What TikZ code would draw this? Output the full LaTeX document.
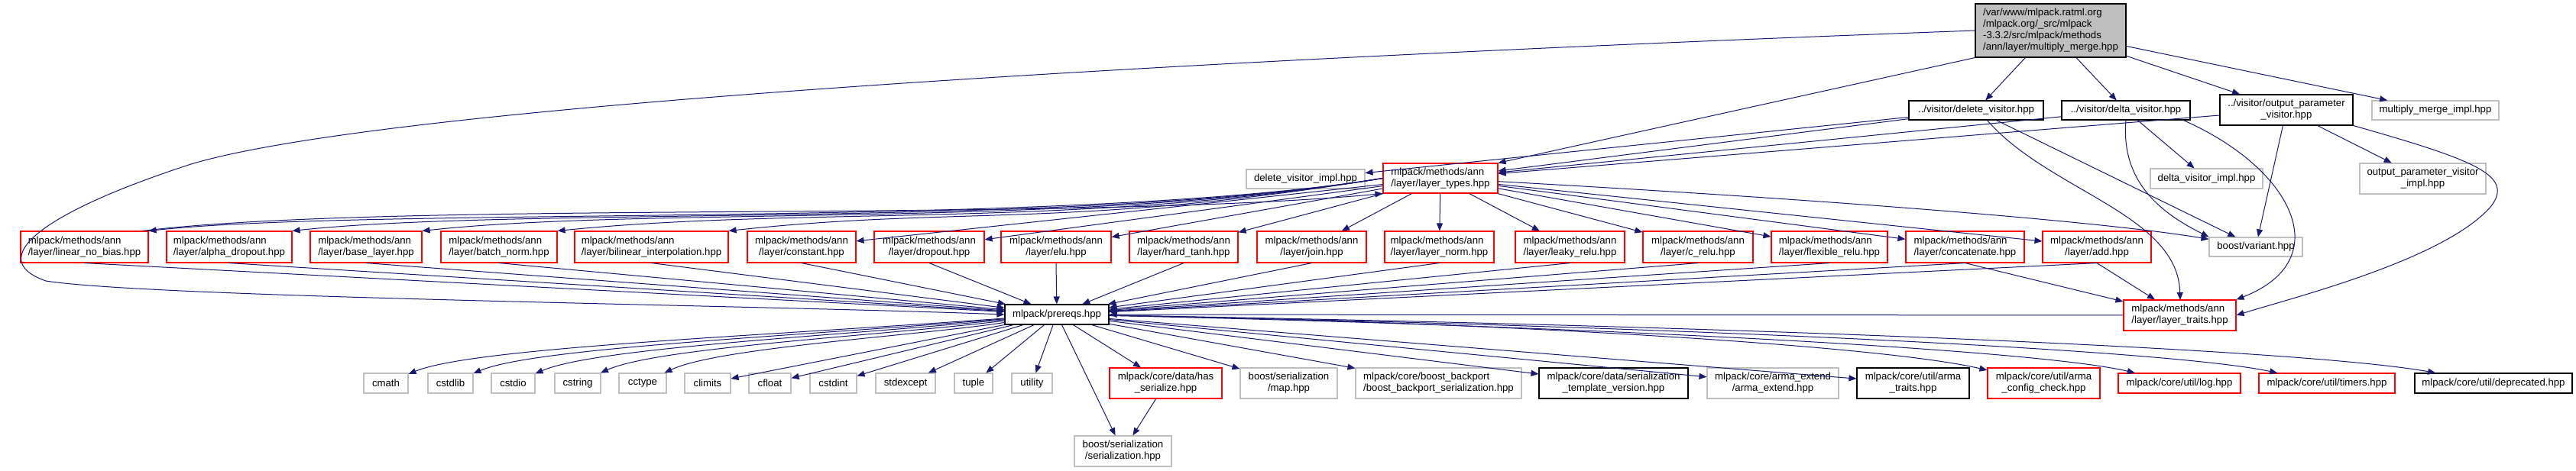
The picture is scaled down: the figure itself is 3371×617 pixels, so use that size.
\documentclass[tikz,border=0pt]{standalone}
\usepackage{fontspec}
\setmainfont{Liberation Sans}
\usetikzlibrary{arrows.meta}
\definecolor{edgec}{HTML}{191970}
\definecolor{greyc}{HTML}{BFBFBF}
\newcommand\bx[7]{\node[#2, minimum width={(#5)-(#3)}, minimum height={(#6)-(#4)}] (#1) at ({((#3)+(#5))/2},{((#4)+(#6))/2}) {#7};}
\begin{document}
\begin{tikzpicture}[x=1pt,y=-1pt, font=\fontsize{13.2}{15}\selectfont,
 box/.style={draw, line width=1.1pt, inner sep=0pt, fill=white, align=center},
 redb/.style={box, draw=red},
 greyb/.style={box, draw=greyc},
 blackb/.style={box, draw=black},
 rootb/.style={box, draw=black, fill=greyc, align=left},
 e/.style={draw=edgec, line width=1pt, -{Triangle[length=10pt,width=8pt]}},
]
\fill[white] (0,0) rectangle (3371,617);
\useasboundingbox (0,0) rectangle (3371,617);
% top
\bx{root}{rootb}{2585}{5}{2782}{75}{/var/www/mlpack.ratml.org\\/mlpack.org/\_src/mlpack\\-3.3.2/src/mlpack/methods\\/ann/layer/multiply\_merge.hpp}
\bx{delv}{blackb}{2498}{132}{2674}{157}{../visitor/delete\_visitor.hpp}
\bx{dltv}{blackb}{2698}{132}{2866}{157}{../visitor/delta\_visitor.hpp}
\bx{opv}{blackb}{2905}{124}{3079}{164}{../visitor/output\_parameter\\\_visitor.hpp}
\bx{mmi}{greyb}{3104}{132}{3270}{157}{multiply\_merge\_impl.hpp}
\bx{delvi}{greyb}{1631}{222}{1786}{247}{delete\_visitor\_impl.hpp}
\bx{lt}{redb,align=left}{1810}{214}{1960}{253}{mlpack/methods/ann\\/layer/layer\_types.hpp}
\bx{dltvi}{greyb}{2814}{221}{2961}{247}{delta\_visitor\_impl.hpp}
\bx{opvi}{greyb}{3088}{214}{3253}{254}{output\_parameter\_visitor\\\_impl.hpp}
% layers
\bx{lnb}{redb,align=left}{27}{303}{194}{344}{mlpack/methods/ann\\/layer/linear\_no\_bias.hpp}
\bx{ald}{redb,align=left}{218}{303}{382}{344}{mlpack/methods/ann\\/layer/alpha\_dropout.hpp}
\bx{bas}{redb,align=left}{406}{303}{552}{344}{mlpack/methods/ann\\/layer/base\_layer.hpp}
\bx{bn}{redb,align=left}{577}{303}{729}{344}{mlpack/methods/ann\\/layer/batch\_norm.hpp}
\bx{bil}{redb,align=left}{752}{303}{953}{344}{mlpack/methods/ann\\/layer/bilinear\_interpolation.hpp}
\bx{cst}{redb}{978}{303}{1120}{344}{mlpack/methods/ann\\/layer/constant.hpp}
\bx{drp}{redb}{1144}{303}{1288}{344}{mlpack/methods/ann\\/layer/dropout.hpp}
\bx{elu}{redb}{1310}{303}{1454}{344}{mlpack/methods/ann\\/layer/elu.hpp}
\bx{ht}{redb}{1478}{303}{1620}{344}{mlpack/methods/ann\\/layer/hard\_tanh.hpp}
\bx{join}{redb}{1645}{303}{1788}{344}{mlpack/methods/ann\\/layer/join.hpp}
\bx{ln}{redb,align=left}{1812}{303}{1955}{344}{mlpack/methods/ann\\/layer/layer\_norm.hpp}
\bx{lkr}{redb}{1983}{303}{2126}{344}{mlpack/methods/ann\\/layer/leaky\_relu.hpp}
\bx{crl}{redb}{2150}{303}{2294}{344}{mlpack/methods/ann\\/layer/c\_relu.hpp}
\bx{flr}{redb,align=left}{2318}{303}{2470}{344}{mlpack/methods/ann\\/layer/flexible\_relu.hpp}
\bx{cat}{redb,align=left}{2494}{303}{2649}{344}{mlpack/methods/ann\\/layer/concatenate.hpp}
\bx{add}{redb}{2673}{303}{2815}{344}{mlpack/methods/ann\\/layer/add.hpp}
\bx{var}{greyb}{2891}{311}{3013}{336}{boost/variant.hpp}
\bx{ltr}{redb,align=left}{2779}{393}{2926}{433}{mlpack/methods/ann\\/layer/layer\_traits.hpp}
\bx{pre}{blackb}{1315}{399}{1451}{425}{mlpack/prereqs.hpp}
% bottom row
\bx{cmath}{greyb}{476}{489}{534}{515}{cmath}
\bx{cstdlib}{greyb}{560}{489}{619}{515}{cstdlib}
\bx{cstdio}{greyb}{643}{489}{700}{515}{cstdio}
\bx{cstring}{greyb}{726}{489}{786}{515}{cstring}
\bx{cctype}{greyb}{810}{489}{872}{515}{cctype}
\bx{climits}{greyb}{896}{489}{956}{515}{climits}
\bx{cfloat}{greyb}{980}{489}{1035}{515}{cfloat}
\bx{cstdint}{greyb}{1060}{489}{1121}{515}{cstdint}
\bx{stdexcept}{greyb}{1146}{489}{1224}{515}{stdexcept}
\bx{tuple}{greyb}{1249}{489}{1299}{515}{tuple}
\bx{utility}{greyb}{1324}{489}{1377}{515}{utility}
\bx{hs}{redb}{1452}{482}{1599}{522}{mlpack/core/data/has\\\_serialize.hpp}
\bx{map}{greyb}{1623}{482}{1750}{522}{boost/serialization\\/map.hpp}
\bx{bbp}{greyb,align=left}{1774}{482}{1991}{522}{mlpack/core/boost\_backport\\/boost\_backport\_serialization.hpp}
\bx{stv}{blackb}{2014}{482}{2209}{522}{mlpack/core/data/serialization\\\_template\_version.hpp}
\bx{ae}{greyb}{2234}{482}{2406}{522}{mlpack/core/arma\_extend\\/arma\_extend.hpp}
\bx{at}{blackb}{2430}{482}{2577}{522}{mlpack/core/util/arma\\\_traits.hpp}
\bx{acc}{redb}{2601}{482}{2748}{522}{mlpack/core/util/arma\\\_config\_check.hpp}
\bx{log}{redb}{2772}{489}{2932}{515}{mlpack/core/util/log.hpp}
\bx{tim}{redb}{2956}{489}{3134}{515}{mlpack/core/util/timers.hpp}
\bx{dep}{blackb}{3160}{489}{3366}{515}{mlpack/core/util/deprecated.hpp}
\bx{ser}{greyb}{1406}{571}{1533}{611}{boost/serialization\\/serialization.hpp}
% edges from root
\draw[e] (root) -- (delv);
\draw[e] (root) -- (dltv);
\draw[e] (root) -- (opv);
\draw[e] (root) -- (mmi);
\draw[e] (root.south west) -- (lt.north east);
\draw[e] (root.west) .. controls (1500,80) and (500,140) .. (250,215) .. controls (50,280) and (-20,340) .. (60,368) .. controls (200,390) and (1000,400) .. (pre.west);
% visitors
\draw[e] (delv) -- (delvi);
\draw[e] (delv) -- (lt);
\draw[e] (delv) -- (var);
\draw[e] (2600,157) .. controls (2680,250) and (2850,280) .. (2853,393);
\draw[e] (dltv) -- (lt);
\draw[e] (dltv) -- (dltvi);
\draw[e] (dltv.south) .. controls (2775,240) and (2830,280) .. (var.north west);
\draw[e] (2856,157) .. controls (3000,220) and (3060,340) .. (ltr.north east);
\draw[e] (opv) -- (lt);
\draw[e] (opv) -- (opvi);
\draw[e] (opv) -- (var);
\draw[e] (opv.south east) .. controls (3240,210) and (3290,230) .. (3260,270) .. controls (3200,340) and (3000,390) .. (ltr.east);
% layer_types
\draw[e] (lt) .. controls (2400,262) and (2750,290) .. (var);
\foreach \t in {ht,elu,drp,cst,join,ln,lkr,crl,flr,cat,add} {\draw[e] (lt) -- (\t);}
\draw[e] (lt.west) .. controls (1400,300) and (1253,270) .. (bil.north east);
\draw[e] (lt.west) .. controls (1400,300) and (1053,270) .. (bn.north east);
\draw[e] (lt.west) .. controls (1400,300) and (852,270) .. (bas.north east);
\draw[e] (lt.west) .. controls (1400,300) and (682,270) .. (ald.north east);
\draw[e] (lt.west) .. controls (1400,300) and (494,270) .. (lnb.north east);
\draw[e] ([xshift=-8pt]lnb.north east) .. controls (520,262) and (1400,292) .. (lt.south west);
% layers -> prereqs
\foreach \t in {lnb,ald,bas,bn,bil,cst,drp,elu,ht,join,ln,lkr,crl,flr,cat,add} {\draw[e] (\t.south) -- (pre);}
\draw[e] (ltr) -- (pre);
\draw[e] (cat.south) -- (ltr);
\draw[e] (add.south) -- (ltr);
% prereqs -> bottom
\draw[e] (pre) .. controls (1000,440) and (620,455) .. (cmath);
\draw[e] (pre) .. controls (1050,440) and (700,455) .. (cstdlib);
\draw[e] (pre) .. controls (1100,440) and (780,455) .. (cstdio);
\draw[e] (pre) .. controls (1150,440) and (860,455) .. (cstring);
\draw[e] (pre) .. controls (1200,440) and (940,455) .. (cctype);
\foreach \t in {climits,cfloat,cstdint,stdexcept,tuple,utility,hs,ser,map,bbp,stv,ae,at} {\draw[e] (pre) -- (\t);}
\draw[e] (pre) .. controls (1900,420) and (2450,450) .. (acc);
\draw[e] (pre) .. controls (2000,425) and (2650,455) .. (log);
\draw[e] (pre) .. controls (2100,425) and (2820,455) .. (tim);
\draw[e] (pre) .. controls (2200,425) and (3000,455) .. (dep);
\draw[e] (hs) -- (ser);
\end{tikzpicture}
\end{document}
